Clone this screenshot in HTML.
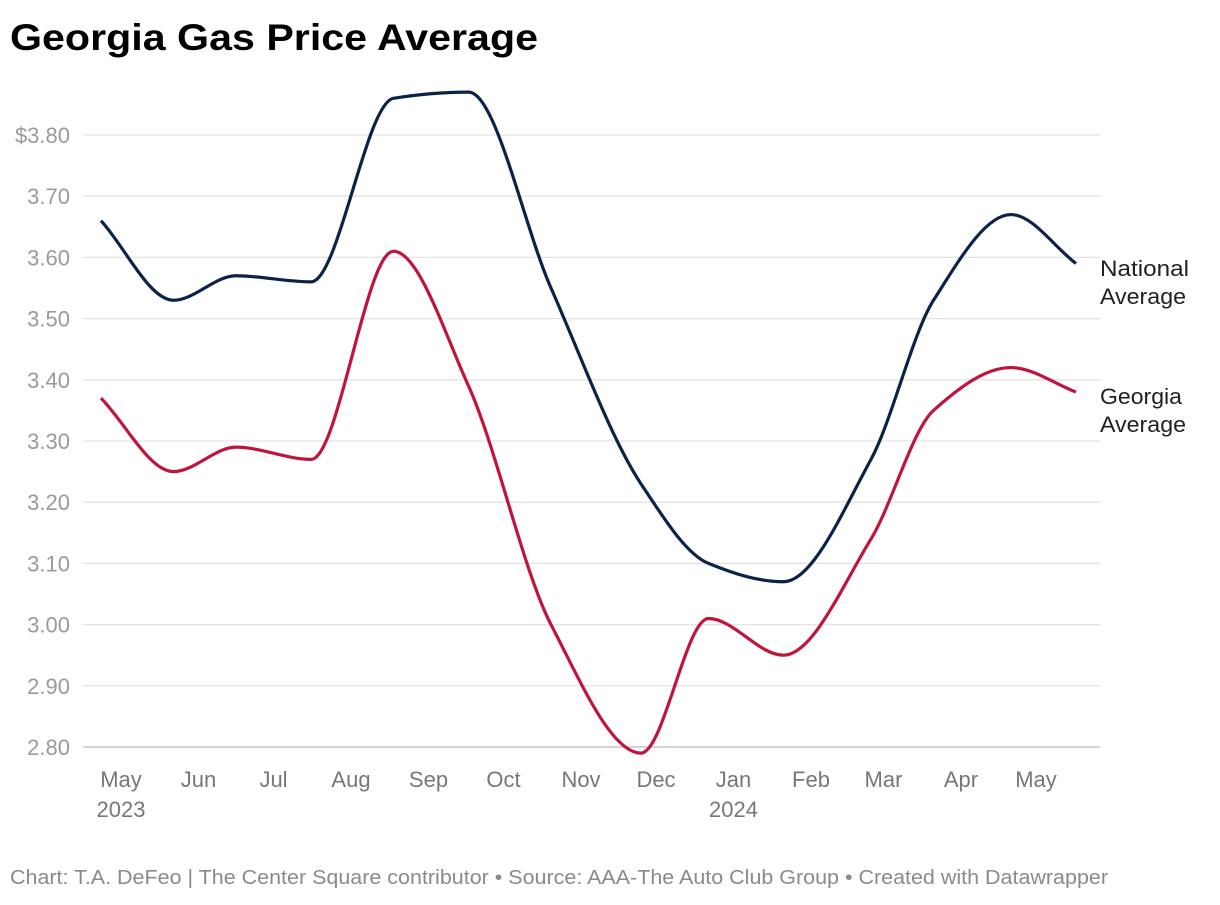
<!DOCTYPE html>
<html><head><meta charset="utf-8">
<style>
body{margin:0;background:#fff;width:1220px;height:900px;overflow:hidden;font-family:"Liberation Sans",sans-serif}
</style></head>
<body>
<svg id="chart" width="1220" height="900" xmlns="http://www.w3.org/2000/svg">
<text x="10" y="50" font-size="37" font-weight="bold" fill="#000" textLength="528" lengthAdjust="spacingAndGlyphs" font-family="Liberation Sans, sans-serif">Georgia Gas Price Average</text>
<g id="grid"></g><g id="xaxis"></g><g id="lines"></g>
<text x="1100" y="276" font-size="22" fill="#222" textLength="89" lengthAdjust="spacingAndGlyphs">National</text>
<text x="1100" y="304" font-size="22" fill="#222" textLength="86" lengthAdjust="spacingAndGlyphs">Average</text>
<text x="1100" y="404" font-size="22" fill="#222" textLength="82" lengthAdjust="spacingAndGlyphs">Georgia</text>
<text x="1100" y="432" font-size="22" fill="#222" textLength="86" lengthAdjust="spacingAndGlyphs">Average</text>
<text x="10" y="884" font-size="20" fill="#8a8a8a" textLength="1098" lengthAdjust="spacingAndGlyphs">Chart: T.A. DeFeo | The Center Square contributor • Source: AAA-The Auto Club Group • Created with Datawrapper</text>
</svg>
<script>
const dayOffsets=[-8,21,46,76,109,139,172,208,235,265,300,325,356,382];
const nationalValues=[3.66,3.53,3.57,3.56,3.86,3.87,3.55,3.23,3.10,3.07,3.27,3.53,3.67,3.59];
const georgiaValues=[3.37,3.25,3.29,3.27,3.61,3.39,3.00,2.79,3.01,2.95,3.14,3.35,3.42,3.38];
const yTicks=[3.8,3.7,3.6,3.5,3.4,3.3,3.2,3.1,3.0,2.9,2.8];
const monthLabels=["May","Jun","Jul","Aug","Sep","Oct","Nov","Dec","Jan","Feb","Mar","Apr","May"];
const monthStartDays=[0,31,61,92,123,153,184,214,245,276,305,336,366];
const yearLabels={0:"2023",8:"2024"};
const NS="http://www.w3.org/2000/svg";
const x=d=>121+d*2.5;
const y=v=>135+(3.8-v)*612;
function el(t,a,p){const e=document.createElementNS(NS,t);for(const k in a)e.setAttribute(k,a[k]);p.appendChild(e);return e;}
const grid=document.getElementById('grid');
yTicks.forEach((v,i)=>{
  const l=el('line',{x1:83,x2:1100,y1:y(v),y2:y(v),stroke:i==yTicks.length-1?'#bbb':'#e3e3e3','stroke-width':1.3},grid);
  
  
  const t=el('text',{x:70,y:y(v)+8,'text-anchor':'end','font-size':22,fill:'#9a9a9a'},grid);
  t.textContent=(i==0?'$':'')+v.toFixed(2);
  
  
});
const xa=document.getElementById('xaxis');
monthLabels.forEach((m,i)=>{
  const t=el('text',{x:x(monthStartDays[i]),y:787,'text-anchor':'middle','font-size':22,fill:'#777'},xa);
  t.textContent=m;
  
  
  if(yearLabels[i]){const u=el('text',{x:x(monthStartDays[i]),y:817,'text-anchor':'middle','font-size':22,fill:'#777'},xa);
  u.textContent=yearLabels[i];
  
  }
});
function monotone(px,py){
  const n=px.length,dx=[],s=[],m=[];
  for(let i=0;i<n-1;i++){dx[i]=px[i+1]-px[i];s[i]=(py[i+1]-py[i])/dx[i];}
  m[0]=s[0];m[n-1]=s[n-2];
  for(let i=1;i<n-1;i++){m[i]=s[i-1]*s[i]<=0?0:3*(dx[i-1]+dx[i])/((2*dx[i]+dx[i-1])/s[i-1]+(dx[i]+2*dx[i-1])/s[i]);}
  let d=`M${px[0]},${py[0]}`;
  for(let i=0;i<n-1;i++){const h=dx[i]/3;d+=`C${px[i]+h},${py[i]+m[i]*h} ${px[i+1]-h},${py[i+1]-m[i+1]*h} ${px[i+1]},${py[i+1]}`;}
  return d;
}
const lines=document.getElementById('lines');
const xs=dayOffsets.map(x);
const p1=el('path',{d:monotone(xs,nationalValues.map(y)),fill:'none',stroke:'#0b2346','stroke-width':3.2,'stroke-linejoin':'round'},lines);


const p2=el('path',{d:monotone(xs,georgiaValues.map(y)),fill:'none',stroke:'#c0143c','stroke-width':3.2,'stroke-linejoin':'round'},lines);


</script>
</body></html>
